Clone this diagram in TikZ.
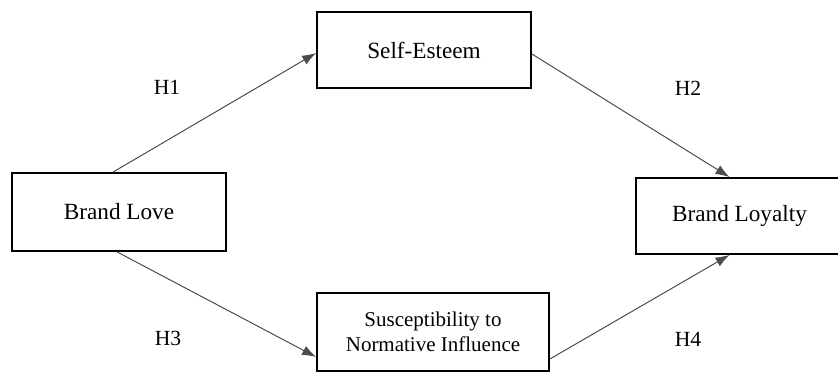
\documentclass[tikz,border=0pt]{standalone}
\usepackage{fontspec}
\setmainfont{Liberation Serif}
\usetikzlibrary{arrows.meta, positioning}

\tikzset{
  construct/.style={draw, line width=0.9pt, inner sep=0pt, align=center,
    font=\fontsize{11.6}{13}\selectfont},
  path/.style={-{Latex[length=7pt,width=5pt]}, line width=0.5pt, black!70},
  hyp/.style={font=\fontsize{10.8}{13}\selectfont}
}

\begin{document}
\begin{tikzpicture}[x=0.5pt, y=-0.5pt]
\useasboundingbox (0,0) rectangle (838,373);

% The constructs
\node [construct, minimum width=107pt, minimum height=38pt] (selfesteem) at (424,50) {Self-Esteem};
\node [construct, minimum width=107pt, minimum height=39pt] (brandlove) at (119,212) {Brand Love};
\node [construct, minimum width=103.5pt, minimum height=38pt] (brandloyalty) at (739.5,216) {Brand Loyalty};
\node [construct, minimum width=116pt, minimum height=39pt,
  font=\fontsize{10.5}{12.5}\selectfont] (susceptibility) at (433,332)
  {Susceptibility to\\Normative Influence};

% The paths
\draw [path] ([xshift=-3pt]brandlove.north) -- ([yshift=-1.5pt]selfesteem.west);
\draw [path] ([yshift=-2pt]selfesteem.east) -- ([xshift=-5pt]brandloyalty.north);
\draw [path] ([xshift=-1pt]brandlove.south) -- ([yshift=-12.5pt]susceptibility.west);
\draw [path] ([yshift=-13.5pt]susceptibility.east) -- ([xshift=-5pt]brandloyalty.south);

% Hypotheses
\node [hyp] (h1) at (167,87) {H1};
\node [hyp] (h2) at (688,88) {H2};
\node [hyp] (h3) at (168,338) {H3};
\node [hyp] (h4) at (688,339) {H4};

\end{tikzpicture}
\end{document}
